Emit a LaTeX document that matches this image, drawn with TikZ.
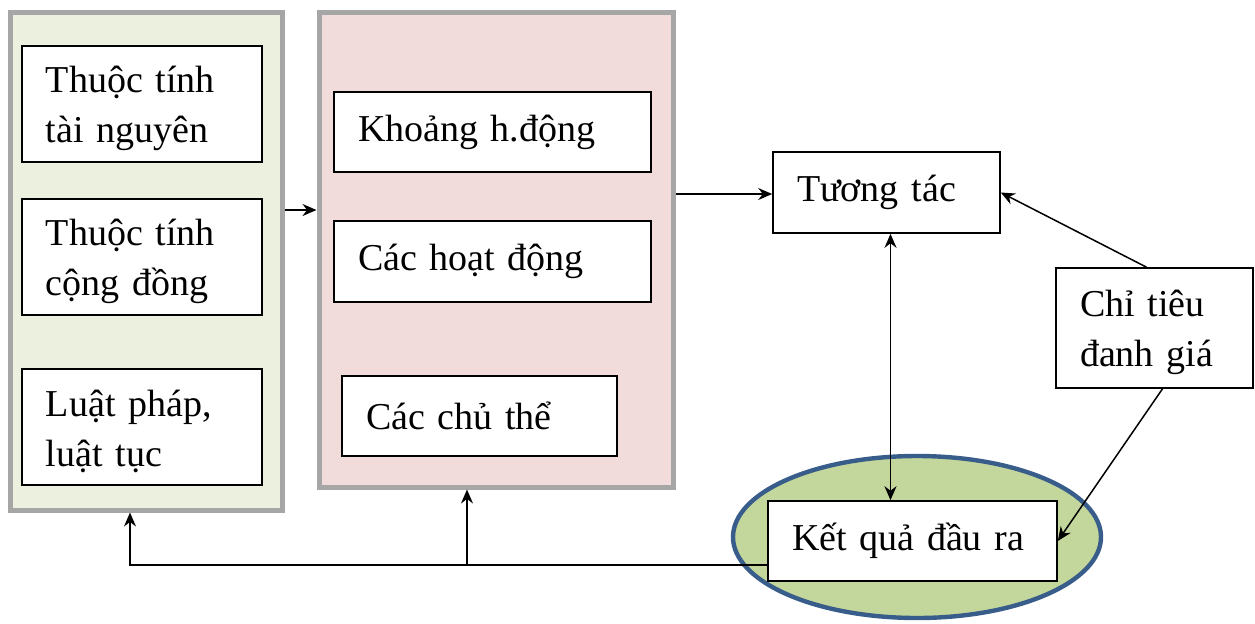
\documentclass[tikz,border=0pt]{standalone}
\usepackage{fontspec}
\setmainfont{Liberation Serif}
\usetikzlibrary{arrows.meta,shapes.geometric}
\definecolor{panelgreen}{HTML}{EBF1DE}
\definecolor{panelpink}{HTML}{F2DCDB}
\definecolor{panelgray}{HTML}{A6A6A6}
\definecolor{ovalgreen}{HTML}{C3D69B}
\definecolor{ovalblue}{HTML}{385D8A}
\newcommand{\topgap}{\rule{0pt}{18pt}}
\tikzset{
  panel/.style={draw=panelgray, line width=2.5pt, inner sep=0pt},
  box/.style={draw, line width=0.8pt, fill=white, inner xsep=12pt, inner ysep=0pt,
    align=left, font=\fontsize{19}{25}\selectfont},
  arr/.style={->, line width=0.75pt},
}
\begin{document}
\begin{tikzpicture}[x=0.5pt,y=-0.5pt,>={Stealth[length=7pt,width=6pt]}]
\useasboundingbox (0,0) rectangle (1255,623);

% two panels
\node[panel, fill=panelgreen, minimum width=136pt, minimum height=249pt] (lp) at (146,261) {};
\node[panel, fill=panelpink, minimum width=177pt, minimum height=237.5pt] (mp) at (496,249.5) {};

\node[box, text width=96pt, minimum height=58pt] (tainguyen) at (142,104) {\topgap Thuộc tính\\tài nguyên};
\node[box, text width=96pt, minimum height=58pt] (congdong) at (142,257) {\topgap Thuộc tính\\cộng đồng};
\node[box, text width=96pt, minimum height=58pt] (luatphap) at (142,427) {\topgap Luật pháp,\\luật tục};

\node[box, text width=134.5pt, minimum height=40pt] (khoang) at (492.5,132) {Khoảng h.động};
\node[box, text width=134.5pt, minimum height=40.5pt] (hoatdong) at (492.5,261.5) {Các hoạt động};
\node[box, text width=113.5pt, minimum height=40pt] (chuthe) at (479.5,416) {Các chủ thể};

% right side
\node[box, text width=89.5pt, minimum height=40.5pt] (tuongtac) at (886.5,192.5) {Tương tác};
\node[box, text width=74.5pt, minimum height=60pt] (chitieu) at (1154.5,328) {\topgap Chỉ tiêu\\đanh giá};
\node[ellipse, draw=ovalblue, line width=2.2pt, fill=ovalgreen, inner sep=0pt,
  minimum width=184pt, minimum height=81pt] (oval) at (917,537) {};
\node[box, text width=120.5pt, minimum height=40pt] (ketqua) at (912.5,541) {Kết quả đầu ra};

% connectors
\draw[arr] (lp.east |- 0,210) -- (mp.west |- 0,210);
\draw[arr] (mp.east |- 0,194) -- (tuongtac.west |- 0,194);
\draw[arr] ([xshift=-4pt]chitieu.north) -- (tuongtac.east);
\draw[arr] ([xshift=4pt]chitieu.south) -- (ketqua.east);
\draw[<->, line width=0.75pt] ([xshift=2pt]tuongtac.south) -- ([xshift=2pt]tuongtac.south |- ketqua.north);

\coordinate (split) at (467,565);
\draw[arr] (ketqua.west |- split) -| ([xshift=-8pt]lp.south);
\draw[arr] (split) -- (split |- mp.south);
\end{tikzpicture}
\end{document}
